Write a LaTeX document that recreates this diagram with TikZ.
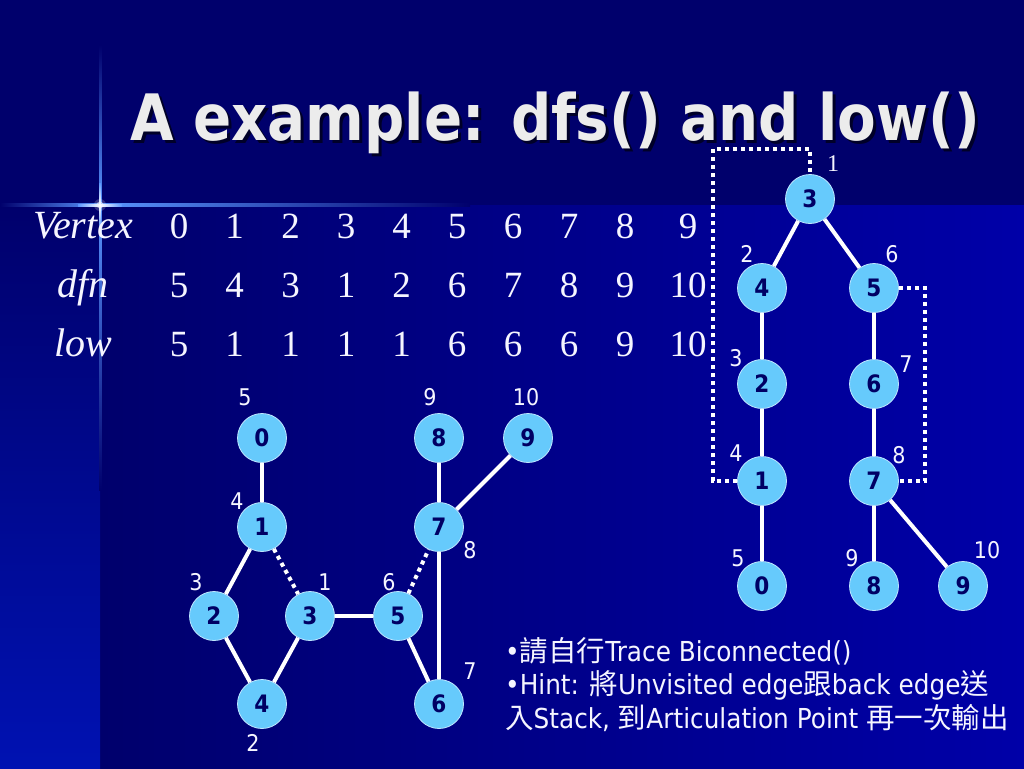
\documentclass[tikz,border=0pt]{standalone}
\usepackage{fontspec}
\setmainfont{Liberation Serif}
\newfontfamily\tfont[FakeStretch=0.88]{DejaVu Sans}
\newfontfamily\tah[FakeStretch=0.9]{DejaVu Sans}
\newfontfamily\cjk{Noto Sans CJK TC}
\definecolor{bgtop}{RGB}{0,0,108}
\definecolor{bgright}{RGB}{0,0,168}
\definecolor{bgleftbot}{RGB}{0,18,178}
\definecolor{glow}{RGB}{90,150,255}
\definecolor{nodefill}{RGB}{102,202,252}
\definecolor{nodeborder}{RGB}{190,230,255}
\definecolor{nodetext}{RGB}{0,0,100}
\definecolor{titlefill}{RGB}{236,236,236}
\definecolor{titleshadow}{RGB}{0,0,40}
\definecolor{txt}{RGB}{245,245,255}
\tikzset{
  vnode/.style={circle, fill=nodefill, draw=nodeborder, line width=0.8pt,
    minimum size=49pt, inner sep=0pt, text=nodetext,
    font={\tah\bfseries\fontsize{24}{26}\selectfont}},
  lab/.style={text=txt, inner sep=0pt, font={\tah\fontsize{23}{24}\selectfont}},
  seriflab/.style={text=txt, inner sep=0pt, font={\fontsize{24}{26}\selectfont}},
  tcell/.style={text=txt, anchor=base, inner sep=0pt, font={\fontsize{37}{40}\selectfont}},
  hdr/.style={text=txt, anchor=base, inner sep=0pt, font={\itshape\fontsize{40}{42}\selectfont}},
  treeedge/.style={draw=white, line width=4pt},
  backedge/.style={draw=white, line width=4pt, dash pattern=on 4pt off 4pt},
  bodytext/.style={text=txt, anchor=base west, inner sep=0pt, font={\tah\fontsize{27.5}{30}\selectfont}}
}
\begin{document}
\begin{tikzpicture}[x=1pt,y=-1pt]
\useasboundingbox (0,0) rectangle (1024,768);
% background
\fill[bgtop] (0,0) rectangle (1024,206);
\shade[left color=bgtop, right color=bgright] (100,205) rectangle (1024,768);
\shade[top color=bgtop, bottom color=bgleftbot] (0,205) rectangle (100,768);
% glow lines
\shade[top color=bgtop, bottom color=glow] (99,45) rectangle (101.5,205);
\shade[top color=glow, bottom color=bgtop] (99,205) rectangle (101.5,490);
\shade[left color=bgtop, right color=glow] (0,203.5) rectangle (100,206.5);
\shade[left color=glow, right color=bgtop] (100,203.5) rectangle (470,206.5);
\fill[white, opacity=0.2] (100,205) circle (6);
\fill[white, opacity=0.5] (100,205) circle (3.5);
\fill[yellow!30!white] (100,205) circle (1.8);
\shade[left color=glow, right color=glow, middle color=white] (78,204) rectangle (122,206);
\shade[top color=glow, bottom color=glow, middle color=white] (99.2,183) rectangle (100.8,227);

% title
\node[anchor=base west, inner sep=0pt, text=titleshadow, font={\tfont\bfseries\fontsize{64}{70}\selectfont}] (tshadow) at (133,143) {A example: dfs() and low()};
\node[anchor=base west, inner sep=0pt, text=titlefill, font={\tfont\bfseries\fontsize{64}{70}\selectfont}] (title) at (130,140) {A example: dfs() and low()};

% table
\node[hdr] (hv) at (83,238) {Vertex};
\node[hdr] (hd) at (83,297) {dfn};
\node[hdr] (hl) at (83,356) {low};
\foreach \x/\a/\b/\c [count=\i] in {179/0/5/5, 234.5/1/4/1, 290.5/2/3/1, 346/3/1/1, 401.5/4/2/1, 457/5/6/6, 513/6/7/6, 569/7/8/6, 625/8/9/9, 688/9/10/10}{
  \node[tcell] (v\i) at (\x,238) {\a};
  \node[tcell] (d\i) at (\x,297) {\b};
  \node[tcell] (l\i) at (\x,356) {\c};
}

% left graph
\node[vnode] (a0) at (262,438) {0};
\node[vnode] (a1) at (262,527) {1};
\node[vnode] (a2) at (214,616) {2};
\node[vnode] (a3) at (310,616) {3};
\node[vnode] (a4) at (262,704) {4};
\node[vnode] (a5) at (398,616) {5};
\node[vnode] (a6) at (439,704) {6};
\node[vnode] (a7) at (439,527) {7};
\node[vnode] (a8) at (439,438) {8};
\node[vnode] (a9) at (528,438) {9};
\draw[treeedge] (a0) -- (a1);
\draw[treeedge] (a1) -- (a2);
\draw[treeedge] (a2) -- (a4);
\draw[treeedge] (a4) -- (a3);
\draw[treeedge] (a3) -- (a5);
\draw[treeedge] (a5) -- (a6);
\draw[treeedge] (a7) -- (a6);
\draw[treeedge] (a7) -- (a8);
\draw[treeedge] (a7) -- (a9);
\draw[backedge] (a1) -- (a3);
\draw[backedge] (a5) -- (a7);
\node[lab] (la0) at (245,397) {5};
\node[lab] (la1) at (237,501) {4};
\node[lab] (la2) at (196,582) {3};
\node[lab] (la3) at (325,582) {1};
\node[lab] (la4) at (253,743) {2};
\node[lab] (la5) at (389,582) {6};
\node[lab] (la6) at (470,671) {7};
\node[lab] (la7) at (470,550) {8};
\node[lab] (la8) at (430,397) {9};
\node[lab] (la9) at (526,397) {10};

% right tree
\node[vnode] (b3) at (810,199) {3};
\node[vnode] (b4) at (762,288) {4};
\node[vnode] (b5) at (874,288) {5};
\node[vnode] (b2) at (762,384) {2};
\node[vnode] (b6) at (874,384) {6};
\node[vnode] (b1) at (762,481) {1};
\node[vnode] (b7) at (874,481) {7};
\node[vnode] (b0) at (762,586) {0};
\node[vnode] (b8) at (874,586) {8};
\node[vnode] (b9) at (963,586) {9};
\draw[treeedge] (b3) -- (b4);
\draw[treeedge] (b3) -- (b5);
\draw[treeedge] (b4) -- (b2);
\draw[treeedge] (b2) -- (b1);
\draw[treeedge] (b1) -- (b0);
\draw[treeedge] (b5) -- (b6);
\draw[treeedge] (b6) -- (b7);
\draw[treeedge] (b7) -- (b8);
\draw[treeedge] (b7) -- (b9);
\coordinate (c1) at (713,149);
\coordinate (c2) at (925,288);
\draw[backedge] (b1.west) -| (c1) -| (b3.north);
\draw[backedge] (b5.east) -- (c2) |- (b7.east);
\node[seriflab] (lb3) at (833,164) {1};
\node[lab] (lb4) at (747,254) {2};
\node[lab] (lb5) at (892,254) {6};
\node[lab] (lb2) at (736,358) {3};
\node[lab] (lb6) at (906,364) {7};
\node[lab] (lb1) at (736,453) {4};
\node[lab] (lb7) at (899,455) {8};
\node[lab] (lb0) at (738,558) {5};
\node[lab] (lb8) at (852,558) {9};
\node[lab] (lb9) at (987,550) {10};

% bottom text
\node[bodytext] (t1) at (505,661) {•{\cjk\fontsize{28.5}{30}\selectfont 請自行}Trace Biconnected()};
\node[bodytext] (t2) at (505,694) {•Hint: {\cjk\fontsize{28.5}{30}\selectfont 將}Unvisited edge{\cjk\fontsize{28.5}{30}\selectfont 跟}back edge{\cjk\fontsize{28.5}{30}\selectfont 送}};
\node[bodytext] (t3) at (505,728) {{\cjk\fontsize{28.5}{30}\selectfont 入}Stack, {\cjk\fontsize{28.5}{30}\selectfont 到}Articulation Point {\cjk\fontsize{28.5}{30}\selectfont 再一次輸出}};
\end{tikzpicture}
\end{document}
